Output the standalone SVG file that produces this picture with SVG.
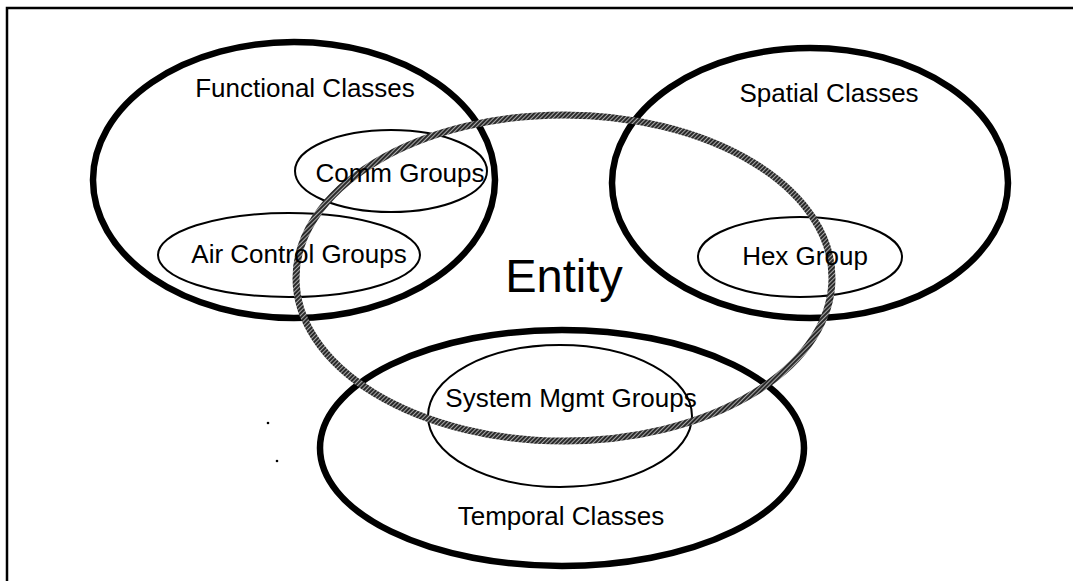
<svg xmlns="http://www.w3.org/2000/svg" width="1073" height="581" viewBox="0 0 1073 581">
<defs>
<pattern id="hatch" width="3" height="3" patternUnits="userSpaceOnUse" patternTransform="rotate(45)">
<rect width="3" height="3" fill="#2a2a2a"/>
<rect width="1" height="3" fill="#a8a8a8"/>
</pattern>
</defs>
<style>
.thick{fill:none;stroke:#000;stroke-width:6.5}
.thin{fill:none;stroke:#000;stroke-width:2}
.entity{fill:none;stroke:url(#hatch);stroke-width:7}
.lbl{font-family:"Liberation Sans",Arial,Helvetica,sans-serif;font-size:26px;fill:#000;text-anchor:middle}
.big{font-size:47px}
.frame{fill:none;stroke:#000;stroke-width:2.5}
</style>
<rect width="1073" height="581" fill="#fff"/>
<path class="frame" d="M7,581 V8 H1073"/>
<circle cx="268" cy="423" r="1.3" fill="#000"/>
<circle cx="277" cy="461" r="1.3" fill="#000"/>
<g id="functional"><ellipse class="thick" cx="294" cy="180" rx="201" ry="138"/></g>
<g id="spatial"><ellipse class="thick" cx="810" cy="183" rx="198" ry="135"/></g>
<g id="temporal"><ellipse class="thick" cx="562" cy="448" rx="242" ry="118"/></g>
<g id="comm"><ellipse class="thin" cx="391" cy="171" rx="96" ry="41"/></g>
<g id="aircontrol"><ellipse class="thin" cx="289" cy="255" rx="131" ry="42"/></g>
<g id="hex"><ellipse class="thin" cx="800" cy="257" rx="102" ry="40"/></g>
<g id="sysmgmt"><ellipse class="thin" cx="560" cy="416" rx="132" ry="71"/></g>
<g id="entity"><ellipse class="entity" cx="564" cy="278" rx="268" ry="163"/></g>
<g id="labels">
<text class="lbl" x="305" y="97">Functional Classes</text>
<text class="lbl" x="829" y="102">Spatial Classes</text>
<text class="lbl" x="400" y="182">Comm Groups</text>
<text class="lbl" x="299" y="263">Air Control Groups</text>
<text class="lbl" x="805" y="265">Hex Group</text>
<text class="lbl big" x="564" y="292">Entity</text>
<text class="lbl" x="571" y="407">System Mgmt Groups</text>
<text class="lbl" x="561" y="525">Temporal Classes</text>
</g>
</svg>
